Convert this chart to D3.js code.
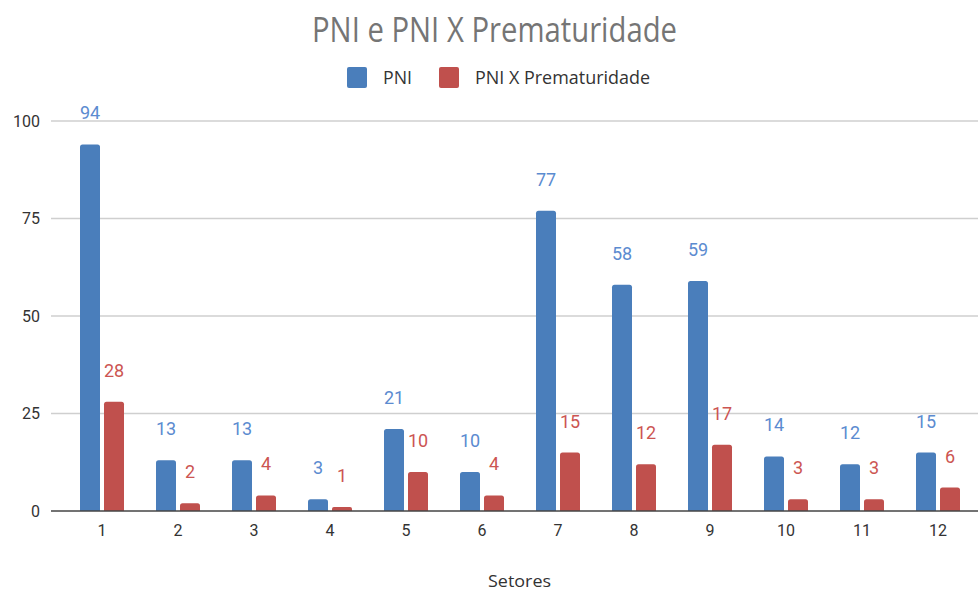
<!DOCTYPE html>
<html>
<head>
<meta charset="utf-8">
<script src="https://cdn.jsdelivr.net/npm/d3@7"></script>
<style>
  body { margin: 0; background: #fff; }
  svg { display: block; }
</style>
</head>
<body>
<div id="chart"></div>
<script>
// chart data
const categories = ['1', '2', '3', '4', '5', '6', '7', '8', '9', '10', '11', '12'];
const seriesNames = ['PNI', 'PNI X Prematuridade'];
const pni = [94, 13, 13, 3, 21, 10, 77, 58, 59, 14, 12, 15];
const pniPrem = [28, 2, 4, 1, 10, 4, 15, 12, 17, 3, 3, 6];
const yTicks = [0, 25, 50, 75, 100];

const WIDTH = 978;
const HEIGHT = 591;
const colors = { 'PNI': '#4a7ebb', 'PNI X Prematuridade': '#c0504d' };
const labelColors = { 'PNI': '#5b8bd0', 'PNI X Prematuridade': '#cc5552' };
const labelFont = '"Open Sans", "Noto Sans", sans-serif';
const numFont = 'Roboto, "Noto Sans", sans-serif';

const plot = { left: 64, right: 976, top: 121, bottom: 511 };

const rows = categories.map((c, i) => ({ cat: c, values: [pni[i], pniPrem[i]] }));

const svg = d3.select('#chart').append('svg')
  .attr('width', WIDTH)
  .attr('height', HEIGHT);

const x0 = d3.scaleBand()
  .domain(categories)
  .range([plot.left, plot.right])
  .paddingInner(32 / 76)
  .paddingOuter(16 / 76);

const x1 = d3.scaleBand()
  .domain(seriesNames)
  .range([0, x0.bandwidth()])
  .paddingInner(4 / 24);

const y = d3.scaleLinear()
  .domain([0, 100])
  .range([plot.bottom, plot.top]);

// narrow text: squeeze an open font to the reference width
function narrowText(sel, width) {
  sel.attr('textLength', width).attr('lengthAdjust', 'spacingAndGlyphs');
}

// title
svg.append('text')
  .attr('x', 312)
  .attr('y', 42)
  .attr('font-family', labelFont)
  .attr('font-size', 34)
  .attr('fill', '#757575')
  .text('PNI e PNI X Prematuridade')
  .call(narrowText, 365);

// legend
const legend = svg.append('g').attr('class', 'legend');
const legendItems = [
  { name: 'PNI', x: 347, w: 29 },
  { name: 'PNI X Prematuridade', x: 439, w: 175 },
];
legendItems.forEach((d) => {
  legend.append('rect')
    .attr('x', d.x)
    .attr('y', 67)
    .attr('width', 20)
    .attr('height', 21)
    .attr('rx', 2)
    .attr('fill', colors[d.name]);
  legend.append('text')
    .attr('x', d.x + 36)
    .attr('y', 84)
    .attr('font-family', labelFont)
    .attr('font-size', 18)
    .attr('fill', '#333')
    .text(d.name)
    .call(narrowText, d.w);
});

// gridlines
svg.append('g')
  .selectAll('line')
  .data(yTicks.filter((t) => t > 0))
  .join('line')
  .attr('x1', 51)
  .attr('x2', WIDTH)
  .attr('y1', (d) => y(d))
  .attr('y2', (d) => y(d))
  .attr('stroke', '#cfcfcf')
  .attr('stroke-width', 1.5);

// y axis labels
const yAxis = svg.append('g')
  .attr('transform', `translate(40,0)`)
  .call(d3.axisLeft(y).tickValues(yTicks).tickSize(0).tickPadding(0));
yAxis.select('.domain').remove();
yAxis.selectAll('text')
  .attr('font-family', numFont)
  .attr('font-size', 16)
  .attr('fill', '#333');

// bars
const groups = svg.append('g')
  .selectAll('g')
  .data(rows)
  .join('g')
  .attr('transform', (d) => `translate(${x0(d.cat)},0)`);

const barData = (d) => d.values.map((v, i) => ({ name: seriesNames[i], value: v }));

groups.selectAll('path')
  .data(barData)
  .join('path')
  .attr('fill', (d) => colors[d.name])
  .attr('d', (d) => {
    const bx = x1(d.name);
    const bw = x1.bandwidth();
    const top = y(d.value);
    const bottom = y(0);
    const r = Math.min(2.5, (bottom - top) / 2);
    return `M${bx},${bottom}V${top + r}Q${bx},${top} ${bx + r},${top}H${bx + bw - r}Q${bx + bw},${top} ${bx + bw},${top + r}V${bottom}Z`;
  });

// value labels
groups.selectAll('text')
  .data(barData)
  .join('text')
  .attr('x', (d) => x1(d.name) + x1.bandwidth() / 2)
  .attr('y', (d) => y(d.value) - 25)
  .attr('text-anchor', 'middle')
  .attr('font-family', numFont)
  .attr('font-size', 18)
  .attr('fill', (d) => labelColors[d.name])
  .text((d) => d.value);

// x axis
const xAxis = svg.append('g')
  .attr('transform', `translate(0,${y(0)})`)
  .call(d3.axisBottom(x0).tickSize(0).tickPadding(14));
xAxis.select('.domain').remove();
xAxis.selectAll('text')
  .attr('font-family', numFont)
  .attr('font-size', 16)
  .attr('fill', '#333');

svg.append('line')
  .attr('x1', 51)
  .attr('x2', WIDTH)
  .attr('y1', y(0))
  .attr('y2', y(0))
  .attr('stroke', '#444')
  .attr('stroke-width', 1.5);

// x axis title
svg.append('text')
  .attr('x', 488)
  .attr('y', 587)
  .attr('font-family', labelFont)
  .attr('font-size', 17)
  .attr('fill', '#333')
  .text('Setores')
  .call(narrowText, 63);
</script>
</body>
</html>
